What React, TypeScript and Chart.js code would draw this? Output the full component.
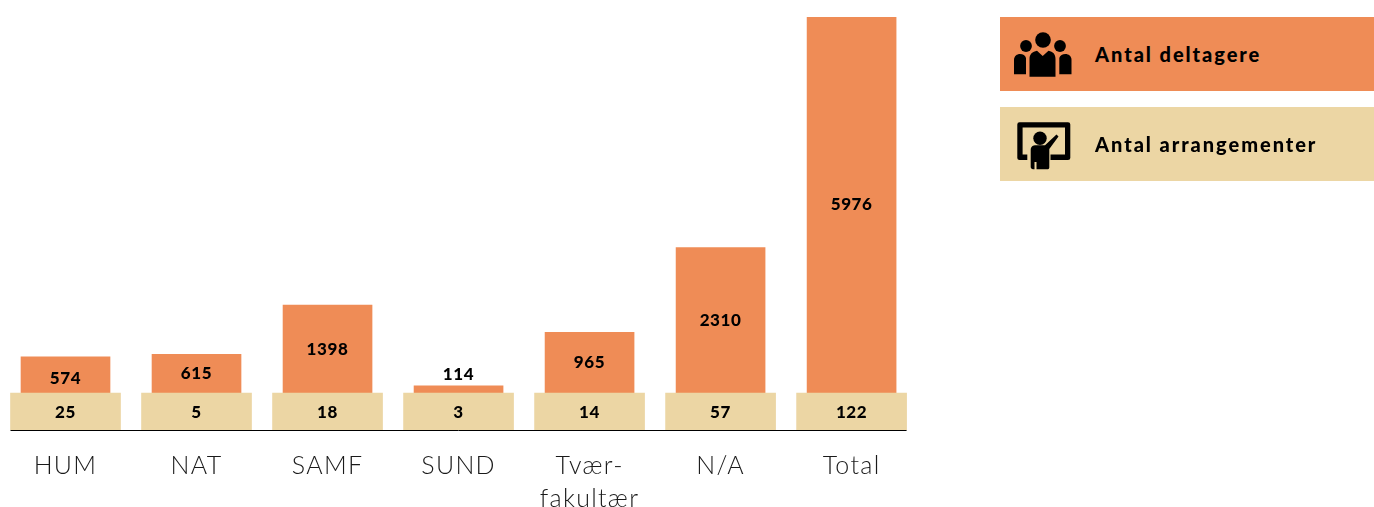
import React, { useEffect, useRef } from "react";
import { Chart, registerables } from "chart.js";

Chart.register(...registerables);

const categories = ["HUM", "NAT", "SAMF", "SUND", ["Tvær-", "fakultær"], "N/A", "Total"];
const participants = [574, 615, 1398, 114, 965, 2310, 5976];
const events = [25, 5, 18, 3, 14, 57, 122];
// The event row is a fixed-height band in the original, whatever its value.
const eventBand = 588;
const legendLabels = ["Antal deltagere", "Antal arrangementer"];

const ORANGE = "#EF8C56";
const TAN = "#ECD6A4";
const FONT = "Lato, sans-serif";

const labelsPlugin = {
  id: "valueLabels",
  beforeDraw(chart: any) {
    chart.ctx.letterSpacing = "1.3px";
  },
  afterDatasetsDraw(chart: any) {
    const { ctx } = chart;
    ctx.save();
    ctx.letterSpacing = "0.6px";
    ctx.font = `900 17px ${FONT}`;
    ctx.fillStyle = "#000";
    ctx.textAlign = "center";
    ctx.textBaseline = "middle";
    chart.getDatasetMeta(0).data.forEach((el: any, i: number) => {
      ctx.fillText(String(events[i]), el.x, (el.y + el.base) / 2 + 1);
    });
    chart.getDatasetMeta(1).data.forEach((el: any, i: number) => {
      const h = el.base - el.y;
      // short bars: the label sits just above; the shortest label-fitting bar rides low
      const y = h < 25 ? el.y - 11 : (el.y + el.base) / 2 + (h < 37 ? 4 : 0);
      ctx.fillText(String(participants[i]), el.x, y);
    });
    // baseline runs from the outer edge of the first band to that of the last
    const tans = chart.getDatasetMeta(0).data;
    const first = tans[0];
    const last = tans[tans.length - 1];
    ctx.strokeStyle = "#000";
    ctx.lineWidth = 1;
    ctx.beginPath();
    ctx.moveTo(first.x - first.width / 2, chart.chartArea.bottom + 0.5);
    ctx.lineTo(last.x + last.width / 2, chart.chartArea.bottom + 0.5);
    ctx.stroke();
    ctx.restore();
  },
};

function PeopleIcon() {
  return (
    <svg width="58" height="46" viewBox="0 0 58 46" style={{ position: "absolute", left: 14, top: 15 }}>
      <circle cx="29" cy="8" r="7.8" />
      <circle cx="12" cy="14" r="5.9" />
      <circle cx="46" cy="14" r="5.9" />
      <path d="M0 42.3 V28 C0 24 3 22 6 22 C9 22 11.3 23.5 12 26 V42.3 Z" />
      <path d="M57.5 42.3 V28 C57.5 24 54.5 22 51.5 22 C48.5 22 46 23.5 45.3 26 V42.3 Z" />
      <path d="M15.5 44.7 V27 C15.5 22 18.5 19.5 23 18.7 L28.7 24 L34.5 18.7 C39 19.5 41.5 22 41.5 27 V44.7 Z" />
    </svg>
  );
}

function TeacherIcon() {
  return (
    <svg width="56" height="50" viewBox="0 0 56 50" style={{ position: "absolute", left: 16, top: 14 }}>
      <path d="M3.5 1.3 H52 Q54.3 1.3 54.3 3.5 V37 Q54.3 39 52 39 H34.5 V33.6 H49 V6.6 H6.6 V33.6 H11.3 V39 H3.5 Q1.3 39 1.3 37 V3.5 Q1.3 1.3 3.5 1.3 Z" />
      <circle cx="24" cy="17.3" r="6.7" />
      <path d="M14.7 46 V29 C14.7 25.5 17 24.2 20 24.2 H29 L40.5 13.5 L42.5 15.5 L33.3 28 V46.5 C33.3 47.8 32.3 48.3 31 48.3 H20.5 V41 H18.5 V48.3 C16 48.3 14.7 47.5 14.7 46 Z" />
    </svg>
  );
}

const legendItems = [
  { label: legendLabels[0], color: ORANGE, top: 17, Icon: PeopleIcon },
  { label: legendLabels[1], color: TAN, top: 107, Icon: TeacherIcon },
];

export default function App() {
  const ref = useRef<HTMLCanvasElement>(null);

  useEffect(() => {
    const chart = new Chart(ref.current as HTMLCanvasElement, {
      type: "bar",
      data: {
        labels: categories as any,
        datasets: [
          {
            label: legendLabels[1],
            data: events.map(() => eventBand),
            backgroundColor: TAN,
            barThickness: 110,
          },
          {
            label: legendLabels[0],
            data: participants,
            backgroundColor: ORANGE,
            barThickness: 89,
          },
        ],
      },
      options: {
        animation: false,
        responsive: false,
        events: [],
        layout: { padding: { left: -1.1, right: 456.9, top: 17, bottom: 0 } },
        plugins: { legend: { display: false }, tooltip: { enabled: false } },
        scales: {
          x: {
            stacked: true,
            offset: true,
            grid: { display: false, drawTicks: false },
            border: { display: false },
            afterFit(scale: any) {
              scale.height = 77;
            },
            ticks: {
              autoSkip: false,
              maxRotation: 0,
              minRotation: 0,
              padding: 20,
              color: "#1a1a1a",
              font: { family: FONT, size: 25, weight: "300" as any, lineHeight: 1.3 },
            },
          },
          y: {
            stacked: true,
            display: false,
            min: 0,
            max: eventBand + Math.max(...participants),
          },
        },
      },
      plugins: [labelsPlugin as any],
    });
    return () => chart.destroy();
  }, []);

  return (
    <div style={{ position: "absolute", left: 0, top: 0, width: 1374, height: 507, overflow: "hidden", background: "#fff" }}>
      <canvas ref={ref} width={1374} height={507} style={{ position: "absolute", left: 0, top: 0 }} />
      {legendItems.map(({ label, color, top, Icon }) => (
        <div key={label} style={{ position: "absolute", left: 1000, top, width: 374, height: 74, background: color }}>
          <Icon />
          <span
            style={{
              position: "absolute",
              left: 95,
              top: 0,
              lineHeight: "74px",
              fontFamily: FONT,
              fontWeight: 900,
              fontSize: 20,
              letterSpacing: 1.95,
              color: "#000",
              whiteSpace: "nowrap",
            }}
          >
            {label}
          </span>
        </div>
      ))}
    </div>
  );
}
